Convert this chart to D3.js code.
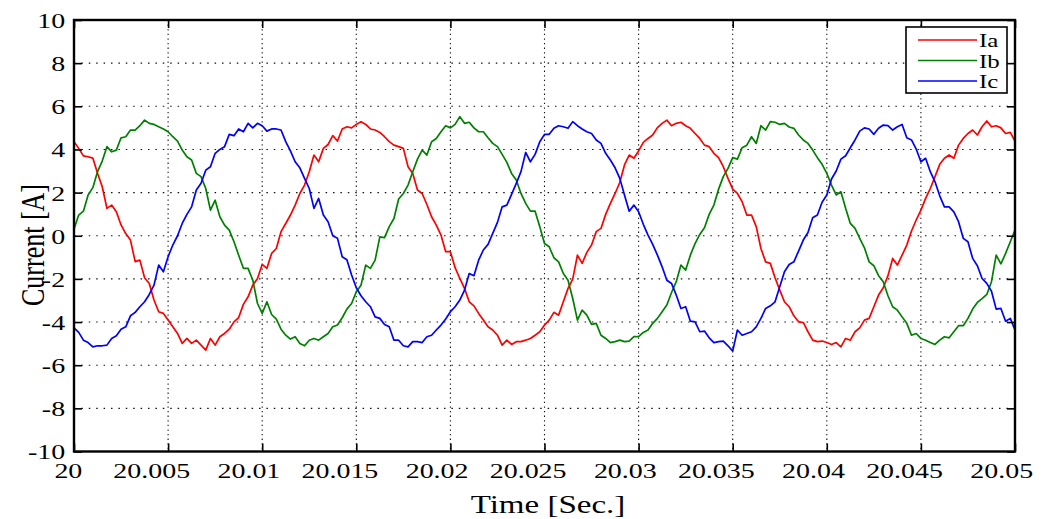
<!DOCTYPE html>
<html>
<head>
<meta charset="utf-8">
<script src="https://cdn.jsdelivr.net/npm/d3@7"></script>
<style>
  body { margin: 0; background: #fff; }
  text { font-family: "Liberation Serif", "Times New Roman", serif; fill: #000; }
</style>
</head>
<body>
<script>
// sampled currents, one value every 0.25 ms from t = 20 s
const t0 = 20, dt = 0.00025;

const ia = [
  4.36, 4.05, 3.7, 3.66, 3.6, 2.9, 2.27, 1.27, 1.42, 1.11,
  0.5, 0.1, -0.2, -1.2, -1.13, -1.95, -2.21, -2.98, -3.52, -3.6,
  -3.91, -4.22, -4.53, -4.99, -4.76, -4.99, -4.84, -5.07, -5.3, -4.76,
  -5.07, -4.68, -4.53, -4.33, -3.99, -3.79, -3.18, -2.83, -2.29, -1.98,
  -1.33, -1.51, -0.82, -0.59, 0.19, 0.57, 0.96, 1.42, 1.96, 2.35,
  2.97, 3.74, 3.43, 4.05, 4.23, 4.64, 4.39, 4.95, 5.05, 5.0,
  5.16, 5.29, 5.16, 4.95, 4.9, 4.79, 4.59, 4.36, 4.2, 4.13,
  4.05, 3.2, 2.89, 2.12, 1.96, 1.45, 0.88, 0.49, 0.03, -0.74,
  -0.74, -1.48, -1.98, -2.44, -3.06, -3.25, -3.6, -3.91, -4.22, -4.37,
  -4.61, -5.07, -4.84, -5.04, -4.91, -4.91, -4.84, -4.76, -4.61, -4.45,
  -4.14, -3.91, -3.55, -3.68, -3.06, -2.44, -2.01, -0.9, -1.28, -0.77,
  -0.43, 0.19, 0.34, 0.99, 1.5, 1.96, 2.47, 3.28, 3.74, 3.59,
  3.93, 4.33, 4.51, 4.67, 5.01, 5.21, 5.36, 5.1, 5.21, 5.26,
  5.1, 4.98, 4.74, 4.51, 4.2, 4.13, 3.82, 3.62, 3.2, 2.66,
  2.16, 1.96, 1.58, 0.96, 0.96, 0.42, -0.59, -1.21, -1.28, -1.95,
  -2.52, -3.06, -3.29, -3.71, -3.99, -4.02, -4.45, -4.84, -4.91, -4.88,
  -4.95, -5.04, -4.95, -5.15, -4.76, -4.84, -4.45, -4.27, -3.91, -3.83,
  -3.29, -2.75, -2.41, -1.85, -1.05, -1.36, -0.9, -0.43, 0.22, 0.73,
  1.19, 1.73, 2.19, 2.74, 3.31, 3.59, 3.74, 3.59, 4.2, 4.51,
  4.74, 4.9, 4.67, 5.05, 5.32, 5.05, 5.1, 5.0, 4.74, 4.79,
  4.39
];

const ib = [
  0.31, 0.96, 1.14, 1.89, 2.23, 2.97, 3.46, 4.13, 3.89, 3.97,
  4.54, 4.59, 4.9, 4.9, 5.1, 5.36, 5.21, 5.16, 5.05, 4.95,
  4.82, 4.59, 4.39, 3.97, 3.66, 3.51, 2.89, 2.74, 2.19, 1.19,
  1.65, 0.88, 0.49, 0.26, -0.28, -0.9, -1.51, -1.51, -2.06, -3.14,
  -3.6, -3.06, -3.65, -3.86, -4.33, -4.61, -4.79, -4.68, -4.99, -5.1,
  -4.84, -4.76, -4.84, -4.68, -4.53, -4.22, -4.14, -3.8, -3.4, -3.14,
  -2.6, -2.29, -1.36, -1.51, -1.13, -0.05, -0.09, 0.42, 0.8, 1.7,
  1.96, 2.35, 2.97, 3.55, 3.97, 3.74, 4.36, 4.51, 4.82, 5.1,
  5.0, 5.16, 5.52, 5.21, 5.26, 5.0, 4.82, 4.82, 4.54, 4.28,
  4.13, 3.77, 3.4, 2.89, 2.58, 1.96, 1.5, 1.14, 1.14, 0.42,
  -0.36, -0.51, -1.02, -1.21, -1.75, -2.06, -2.91, -3.91, -3.45, -3.68,
  -4.11, -4.06, -4.61, -4.76, -4.95, -4.91, -4.84, -4.91, -4.88, -4.68,
  -4.68, -4.48, -4.37, -4.06, -3.83, -3.52, -3.21, -2.63, -2.13, -1.36,
  -1.59, -0.9, -0.36, 0.06, 0.37, 0.99, 1.42, 2.16, 2.74, 3.12,
  3.62, 3.55, 4.08, 4.2, 4.59, 4.28, 5.1, 4.9, 5.29, 5.26,
  5.16, 5.21, 5.04, 4.98, 4.67, 4.44, 4.28, 3.97, 3.62, 3.31,
  2.89, 2.35, 1.89, 2.04, 1.27, 0.57, 0.34, -0.12, -0.56, -1.21,
  -1.39, -1.85, -2.13, -2.78, -3.29, -3.45, -3.76, -4.06, -4.61, -4.53,
  -4.76, -4.84, -4.95, -5.04, -4.84, -4.68, -4.73, -4.45, -4.17, -4.17,
  -3.83, -3.4, -3.09, -2.91, -2.72, -2.13, -0.9, -1.3, -0.82, -0.28,
  0.26
];

const ic = [
  -4.27, -4.48, -4.84, -4.95, -5.15, -5.1, -5.1, -5.07, -4.76, -4.64,
  -4.33, -4.22, -3.71, -3.55, -3.29, -3.06, -2.72, -2.29, -1.36, -1.67,
  -0.97, -0.43, 0.0, 0.57, 0.99, 1.34, 2.12, 2.43, 3.04, 3.2,
  3.82, 4.0, 4.13, 4.7, 4.64, 4.95, 4.82, 5.21, 5.0, 5.21,
  5.1, 4.85, 4.95, 4.95, 4.9, 4.36, 3.93, 3.43, 3.15, 2.66,
  2.19, 1.27, 1.73, 0.96, 0.65, 0.0, -0.12, -0.97, -1.11, -1.82,
  -2.41, -2.78, -3.06, -3.29, -3.76, -3.83, -4.11, -4.22, -4.84, -4.84,
  -5.1, -5.15, -4.91, -4.91, -4.95, -4.68, -4.61, -4.37, -4.14, -3.86,
  -3.52, -3.29, -2.98, -2.52, -1.75, -1.85, -1.13, -0.66, -0.4, 0.11,
  0.62, 1.34, 1.42, 1.92, 2.43, 2.97, 3.86, 3.43, 3.77, 4.36,
  4.7, 4.7, 4.98, 5.1, 5.05, 4.98, 5.29, 5.1, 4.95, 4.82,
  4.74, 4.44, 4.28, 3.82, 3.51, 3.15, 2.66, 1.89, 1.14, 1.42,
  1.11, 0.53, 0.03, -0.4, -0.9, -1.44, -2.06, -2.21, -2.75, -3.37,
  -3.29, -3.96, -3.99, -4.45, -4.42, -4.73, -4.95, -4.91, -4.88, -5.1,
  -5.35, -4.37, -4.61, -4.53, -4.45, -4.22, -3.83, -3.37, -3.25, -3.06,
  -2.36, -1.67, -1.33, -1.21, -0.71, -0.2, 0.15, 0.83, 0.96, 1.55,
  1.89, 2.63, 3.0, 3.55, 3.71, 4.08, 4.44, 4.85, 5.0, 4.95,
  4.7, 4.98, 5.13, 5.1, 4.9, 5.05, 5.16, 4.54, 4.44, 4.02,
  3.43, 3.59, 2.97, 2.5, 1.85, 1.34, 1.34, 1.11, 0.65, -0.12,
  -0.28, -1.05, -1.39, -1.98, -2.21, -2.57, -3.4, -3.37, -3.96, -3.83,
  -4.37
];

const seriesNames = ["Ia", "Ib", "Ic"];
const seriesColors = ["#ff0000", "#008000", "#0000ff"];
const xTicks = [20, 20.005, 20.01, 20.015, 20.02, 20.025, 20.03, 20.035, 20.04, 20.045, 20.05];
const yTicks = [-10, -8, -6, -4, -2, 0, 2, 4, 6, 8, 10];

// plot box in page pixels
const W = 1048, H = 519;
const box = {left: 74, right: 1015, top: 20, bottom: 451.5};
const stretch = 1.27;   // text in the figure is a bit wide

const svg = d3.select("body").append("svg")
    .attr("width", W)
    .attr("height", H);

const x = d3.scaleLinear().domain([20, 20.05]).range([box.left, box.right]);
const y = d3.scaleLinear().domain([-10, 10]).range([box.bottom, box.top]);

// dotted grid
svg.append("g").selectAll("line")
    .data(xTicks.slice(1, -1))
    .enter().append("line")
    .attr("x1", d => x(d)).attr("x2", d => x(d))
    .attr("y1", box.top).attr("y2", box.bottom)
    .attr("stroke", "#111").attr("stroke-width", 1.1)
    .attr("stroke-dasharray", "1.3,3.3");

svg.append("g").selectAll("line")
    .data(yTicks.slice(1, -1))
    .enter().append("line")
    .attr("x1", box.left).attr("x2", box.right)
    .attr("y1", d => y(d)).attr("y2", d => y(d))
    .attr("stroke", "#111").attr("stroke-width", 1.1)
    .attr("stroke-dasharray", "1.5,5.9");

// the three phases
const series = [ia, ib, ic];
const line = d3.line()
    .x((d, i) => x(t0 + i * dt))
    .y(d => y(d));

svg.append("g").selectAll("path")
    .data(series)
    .enter().append("path")
    .attr("fill", "none")
    .attr("stroke", (d, i) => seriesColors[i])
    .attr("stroke-width", 1.7)
    .attr("stroke-linejoin", "round")
    .attr("d", line);

// axes, ticks pointing inward
const fmt = d => String(+d.toFixed(3));

const gx = svg.append("g")
    .attr("transform", "translate(0," + box.bottom + ")")
    .call(d3.axisBottom(x).tickValues(xTicks).tickFormat(fmt).tickSize(-8).tickSizeOuter(0).tickPadding(11));

const gy = svg.append("g")
    .attr("transform", "translate(" + box.left + ",0)")
    .call(d3.axisLeft(y).tickValues(yTicks).tickFormat(d => String(d)).tickSize(-8).tickSizeOuter(0).tickPadding(7));

svg.append("g")
    .attr("transform", "translate(0," + box.top + ")")
    .call(d3.axisTop(x).tickValues(xTicks).tickFormat("").tickSize(-8).tickSizeOuter(0));

svg.append("g")
    .attr("transform", "translate(" + box.right + ",0)")
    .call(d3.axisRight(y).tickValues(yTicks).tickFormat("").tickSize(-8).tickSizeOuter(0));

svg.selectAll(".tick line").attr("stroke", "#000").attr("stroke-width", 1.6);
svg.selectAll(".domain").remove();

gx.selectAll("text")
    .style("font-size", "22px")
    .attr("transform", "scale(" + stretch + ",1)")
    .attr("dx", function() { return -0.22 * this.getComputedTextLength(); });

gy.selectAll("text")
    .style("font-size", "22px")
    .attr("dy", "0.34em")
    .attr("transform", "scale(" + stretch + ",1)");

// frame
svg.append("rect")
    .attr("x", box.left).attr("y", box.top)
    .attr("width", box.right - box.left).attr("height", box.bottom - box.top)
    .attr("fill", "none").attr("stroke", "#000").attr("stroke-width", 2.4);

// axis titles
svg.append("text")
    .attr("transform", "translate(548,513) scale(" + stretch + ",1)")
    .attr("text-anchor", "middle")
    .style("font-size", "26px")
    .text("Time [Sec.]");

svg.append("text")
    .attr("transform", "translate(44,245) scale(" + stretch + ",1) rotate(-90)")
    .attr("text-anchor", "middle")
    .style("font-size", "26px")
    .text("Current [A]");

// legend
const legend = svg.append("g");
legend.append("rect")
    .attr("x", 906).attr("y", 27).attr("width", 101).attr("height", 66)
    .attr("fill", "#fff").attr("stroke", "#000").attr("stroke-width", 1.6);

seriesNames.forEach(function(name, i) {
  const ly = 40 + i * 20.5;
  legend.append("line")
      .attr("x1", 918).attr("x2", 977).attr("y1", ly).attr("y2", ly)
      .attr("stroke", seriesColors[i]).attr("stroke-width", 1.6);
  legend.append("text")
      .attr("transform", "translate(979," + (ly + 7) + ") scale(1.38,1)")
      .style("font-size", "18px")
      .text(name);
});
</script>
</body>
</html>
